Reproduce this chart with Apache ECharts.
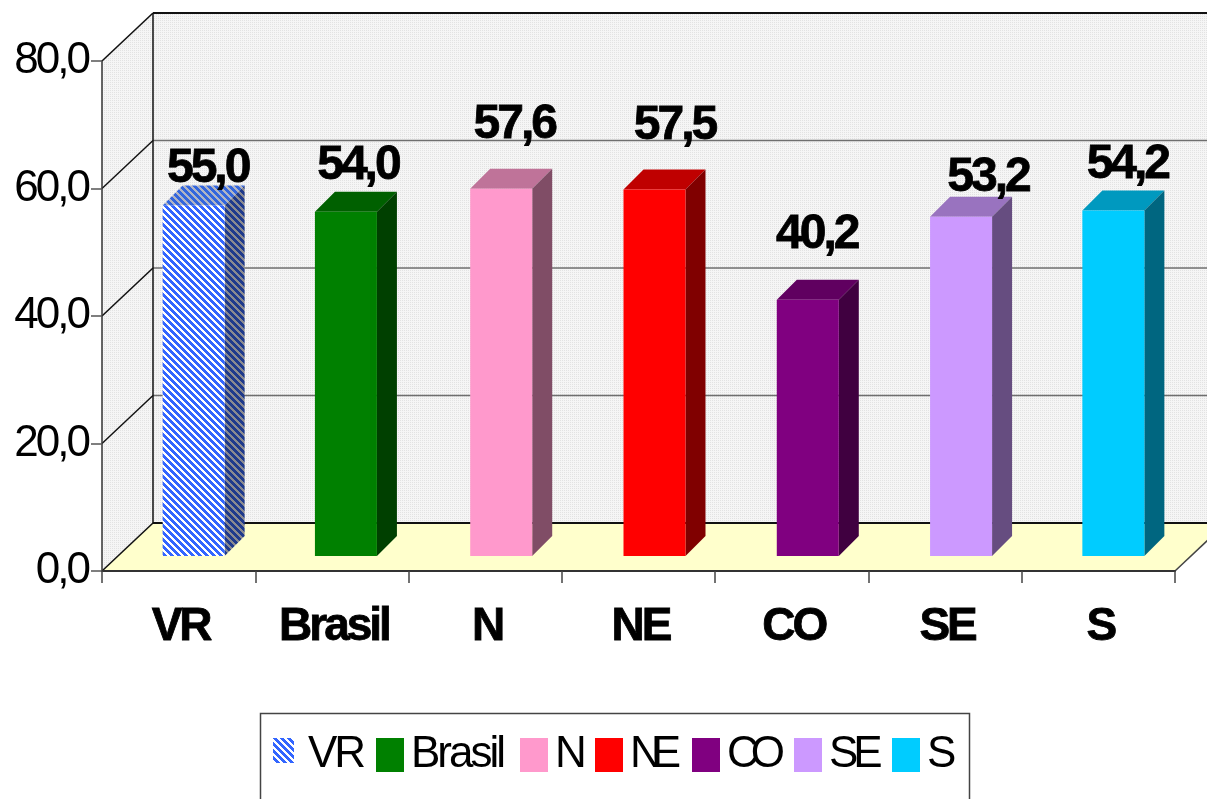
<!DOCTYPE html>
<html>
<head>
<meta charset="utf-8">
<style>html,body{margin:0;padding:0;background:#fff;overflow:hidden}#c{width:1207px;height:799px}</style>
<script src="https://cdn.jsdelivr.net/npm/echarts@6/dist/echarts.min.js"></script>
</head>
<body>
<div id="c"></div>
<script>
const categories = ['VR', 'Brasil', 'N', 'NE', 'CO', 'SE', 'S'];
const values = [55.0, 54.0, 57.6, 57.5, 40.2, 53.2, 54.2];
const yTicks = [0, 20, 40, 60, 80];

// Style constants
const frontColors = ['#3366FF', '#008000', '#FF99CC', '#FF0000', '#800080', '#CC99FF', '#00CCFF'];
const topColors = ['#2B4FB8', '#006000', '#BF7399', '#BF0000', '#600060', '#9973BF', '#0099BF'];
const sideColors = ['#1F3A8C', '#004000', '#804D66', '#800000', '#400040', '#664D80', '#006680'];
const labelLift = [-7, 2, 20, 20, 21, -5, 2];
const labelNudge = [0, -2, -1, 6, -5, 13, 0];
const barNudge = [0, -1, 1, 1, 1, 1, 0];
const legendLefts = [273, 376, 520, 595, 692, 794, 892];
const legendTightText = { NE: -10, CO: -8, SE: -5 };
const WALL_DX = 51, WALL_DY = 48;
const BAR_W = 62, BAR_SHIFT_X = 15, BAR_SHIFT_Y = 15, BAR_DEPTH = 20;

// The reference's text is set tight: glyphs overlap slightly.
['fillText', 'strokeText'].forEach(m => {
  const native = CanvasRenderingContext2D.prototype[m];
  CanvasRenderingContext2D.prototype[m] = function (text) {
    const tight = this.font.indexOf('bold') < 0 ? legendTightText[text] : undefined;
    this.letterSpacing = (tight !== undefined ? tight : -3) + 'px';
    return native.apply(this, arguments);
  };
});

function pattern(w, h, draw) {
  const c = document.createElement('canvas');
  c.width = w; c.height = h;
  draw(c.getContext('2d'));
  return { image: c, repeat: 'repeat' };
}
function stripes(fg, bg) {
  return pattern(7, 7, g => {
    for (let y = 0; y < 7; y++) {
      for (let x = 0; x < 7; x++) {
        g.fillStyle = ((x - y + 7) % 7) < 4 ? fg : bg;
        g.fillRect(x, y, 1, 1);
      }
    }
  });
}
const wallFill = pattern(2, 2, g => {
  g.fillStyle = '#F5F5F5'; g.fillRect(0, 0, 2, 2);
  g.fillStyle = '#E2E2E2'; g.fillRect(0, 0, 1, 1);
});
const vrFront = stripes('#3366FF', '#FFFFFF');
const vrTop = stripes('#3366DD', '#B0B4C4');
const vrSide = stripes('#1F3A8C', '#8A8A90');

function poly(points, fill, z2) {
  return { type: 'polygon', z2: z2 || 0, shape: { points }, style: { fill, stroke: 'none' } };
}
function line(a, b, stroke, lineWidth, z2) {
  return { type: 'line', z2: z2 || 1, shape: { x1: a[0], y1: a[1], x2: b[0], y2: b[1] }, style: { stroke, lineWidth } };
}

function renderWalls(params, api) {
  const band = api.size([1, 0])[0];
  const leftX = api.coord([0, 0])[0] - band / 2;
  const rightX = api.coord([categories.length - 1, 0])[0] + band / 2;
  const at = t => [leftX, api.coord([0, t])[1]];
  const lo = at(yTicks[0]);
  const hi = at(yTicks[yTicks.length - 1]);
  const right = [rightX, lo[1]];
  const back = p => [p[0] + WALL_DX, p[1] - WALL_DY];
  const kids = [
    poly([back(hi), [rightX + WALL_DX, hi[1] - WALL_DY], [rightX + WALL_DX, lo[1] - WALL_DY], back(lo)], wallFill),
    poly([hi, back(hi), back(lo), lo], wallFill),
    poly([lo, back(lo), back(right), right], '#FFFFCC')
  ];
  yTicks.forEach(t => {
    const p = at(t);
    const edge = t === yTicks[0] || t === yTicks[yTicks.length - 1];
    kids.push(line(p, back(p), '#111111', 1.5));
    kids.push(line(back(p), [rightX + WALL_DX, p[1] - WALL_DY], edge ? '#111111' : '#6E6E6E', edge ? 2 : 1.5));
  });
  kids.push(line(back(hi), back(lo), '#111111', 1.5));
  kids.push(line(right, back(right), '#444444', 1.5));
  return { type: 'group', children: kids };
}

function renderBar(i) {
  return function (params, api) {
    const val = api.value(1);
    const base = api.coord([api.value(0), 0]);
    const top = api.coord([api.value(0), val]);
    const x0 = base[0] + BAR_SHIFT_X + barNudge[i] - BAR_W / 2, x1 = x0 + BAR_W;
    const yb = base[1] - BAR_SHIFT_Y, yt = top[1] - BAR_SHIFT_Y;
    const d = BAR_DEPTH;
    const isVR = i === 0;
    return {
      type: 'group',
      children: [
        poly([[x0, yt], [x0 + d, yt - d], [x1 + d, yt - d], [x1, yt]], isVR ? vrTop : topColors[i]),
        poly([[x1, yt], [x1 + d, yt - d], [x1 + d, yb - d], [x1, yb]], isVR ? vrSide : sideColors[i]),
        poly([[x0, yt], [x1, yt], [x1, yb], [x0, yb]], isVR ? vrFront : frontColors[i]),
        {
          type: 'text', z2: 10,
          x: x0 + BAR_W / 2 + d / 2 + 4 + labelNudge[i], y: yt - d - labelLift[i],
          style: {
            text: val.toFixed(1).replace('.', ','),
            font: 'bold 48px "Liberation Sans", Arial, sans-serif',
            fill: '#000', align: 'center', verticalAlign: 'bottom',
            stroke: '#000', lineWidth: 0.8
          }
        }
      ]
    };
  };
}

const barSeries = categories.map((name, i) => ({
  type: 'custom',
  name,
  clip: false,
  z: 3,
  coordinateSystem: 'cartesian2d',
  itemStyle: { color: frontColors[i] },
  data: [[i, values[i]]],
  encode: { x: 0, y: 1 },
  renderItem: renderBar(i)
}));

const legendIcon = 'path://M0 0H21V25H0Z M28 34Z';

const chart = echarts.init(document.getElementById('c'), null, { renderer: 'canvas' });
chart.setOption({
  animation: false,
  backgroundColor: '#fff',
  grid: { left: 102, right: 32, top: 61, bottom: 228, outerBoundsMode: 'none' },
  graphic: [{
    type: 'rect', z: 5, silent: true,
    shape: { x: 260.5, y: 713.5, width: 709, height: 120 },
    style: { fill: '#fff', stroke: '#444', lineWidth: 1.5 }
  }],
  xAxis: {
    type: 'category',
    data: categories,
    boundaryGap: true,
    axisLine: { show: true, lineStyle: { color: '#333', width: 2 } },
    axisTick: { show: true, length: 12, alignWithLabel: false, lineStyle: { color: '#444', width: 1.5 } },
    axisLabel: {
      interval: 0, margin: 33, color: '#000', fontFamily: 'Liberation Sans', fontWeight: 'bold', fontSize: 46,
      padding: [0, 0, 0, 4], textBorderColor: '#000', textBorderWidth: 0.8
    },
    z: 4
  },
  yAxis: {
    type: 'value', min: 0, max: 80, interval: 20,
    axisLine: { show: true, lineStyle: { color: '#333', width: 1.5 } },
    axisTick: { show: true, length: 11, lineStyle: { color: '#555', width: 1.5 } },
    axisLabel: {
      margin: 14, color: '#000', fontFamily: 'Liberation Sans', fontSize: 44,
      formatter: v => v.toFixed(1).replace('.', ',')
    },
    splitLine: { show: false },
    z: 4
  },
  legend: categories.map((name, i) => ({
    left: legendLefts[i], top: 733,
    orient: 'horizontal',
    padding: 0,
    z: 6,
    itemWidth: 28, itemHeight: 34,
    textStyle: { color: '#000', fontFamily: 'Liberation Sans', fontSize: 44, padding: [0, 0, 18, 2] },
    data: [{
      name,
      icon: i === 0 ? legendIcon : 'rect',
      itemStyle: { color: i === 0 ? vrFront : frontColors[i] }
    }]
  })),
  series: [{
    type: 'custom',
    name: 'walls',
    clip: false,
    z: 1,
    silent: true,
    data: [[0, 0]],
    encode: { x: 0, y: 1 },
    renderItem: renderWalls
  }].concat(barSeries)
});
</script>
</body>
</html>
